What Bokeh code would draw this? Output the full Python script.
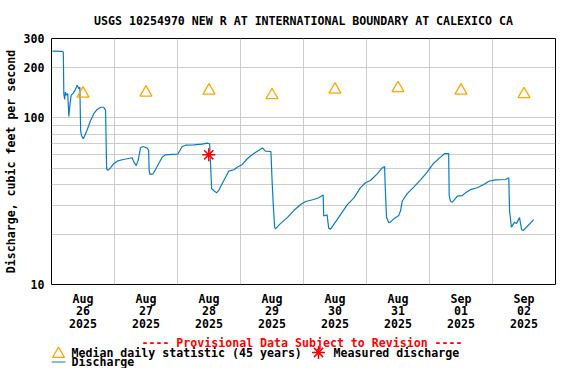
from bokeh.plotting import figure
from bokeh.models import FixedTicker, Range1d, BasicTickFormatter
from bokeh.layouts import column
from bokeh.embed import file_html
from bokeh.resources import INLINE
from bokeh.core.properties import value

TITLE = "USGS 10254970 NEW R AT INTERNATIONAL BOUNDARY AT CALEXICO CA"
Y_LABEL = "Discharge, cubic feet per second"
PROVISIONAL = "---- Provisional Data Subject to Revision ----"
LEGEND_LABELS = ["Median daily statistic (45 years)", "Measured discharge", "Discharge"]

# hours since 2025-08-26 00:00
day_tick_hours = [12, 36, 60, 84, 108, 132, 156, 180]
day_labels = ["Aug\n26\n2025", "Aug\n27\n2025", "Aug\n28\n2025", "Aug\n29\n2025",
              "Aug\n30\n2025", "Aug\n31\n2025", "Sep\n01\n2025", "Sep\n02\n2025"]
midnight_hours = [24, 48, 72, 96, 120, 144, 168]
y_ticks = [10, 20, 30, 40, 50, 60, 70, 80, 90, 100, 200, 300]
y_tick_labels = ["10", "", "", "", "", "", "", "", "", "100", "200", "300"]

hours = [0.3, 4.1, 4.5, 4.7, 5.0, 5.3, 5.7, 6.2, 6.6, 7.0,
         7.5, 8.3, 9.1, 9.8, 10.4, 10.8, 11.1, 11.4, 12.1, 12.7,
         13.6, 14.9, 16.1, 17.4, 18.7, 19.9, 20.6, 21.0, 21.5, 22.5,
         23.7, 25.0, 26.9, 28.8, 30.7, 31.4, 32.3, 33.0, 33.9, 34.9,
         36.5, 37.0, 37.2, 37.5, 38.7, 39.6, 40.9, 42.2, 43.4, 46.0,
         48.1, 48.9, 49.8, 51.1, 54.2, 57.4, 59.3, 60.2, 60.3, 61.0,
         61.8, 62.9, 63.7, 65.0, 66.3, 67.5, 69.5, 70.7, 72.7, 74.6,
         75.8, 78.4, 80.4, 81.5, 83.6, 84.0, 84.4, 85.0, 85.3, 87.2,
         89.8, 92.3, 94.9, 96.8, 99.9, 101.8, 103.5, 103.7, 104.4, 105.0,
         105.6, 106.3, 108.8, 112.7, 115.2, 117.7, 119.6, 121.5, 124.1, 126.0,
         126.9, 127.1, 127.6, 128.5, 129.1, 130.4, 132.3, 133.0, 133.6, 135.5,
         138.0, 140.6, 143.1, 145.6, 148.2, 149.7, 151.3, 151.5, 152.0, 152.7,
         153.5, 154.6, 156.5, 157.7, 159.6, 162.2, 164.7, 166.6, 169.1, 173.0,
         174.2, 174.5, 175.2, 176.4, 177.1, 178.3, 178.7, 179.1, 179.7, 181.2,
         183.7]
discharge = [252, 251, 248, 140, 129, 143, 137, 140, 102, 119,
             137, 141, 148, 157, 150, 153, 84, 78.5, 75, 78.5,
             85, 96.6, 106, 112.5, 116, 116, 111, 49.5, 48.4, 50.2,
             53.1, 55, 56.1, 56.9, 57.7, 54.3, 51.8, 55.6, 66.2, 67.4,
             65.9, 63.8, 48.4, 45.8, 46.2, 48.9, 53.5, 58.2, 60.1, 60.4,
             60.6, 63.8, 67.4, 68.6, 69.0, 69.6, 70.6, 70.0, 66.8, 37.6,
             36.7, 35.5, 36.7, 40.3, 44.1, 47.9, 48.9, 50.6, 52.6, 56.9,
             59.1, 63.2, 66.0, 63.2, 62.9, 43.1, 31.9, 22.1, 21.6, 23.2,
             25.2, 27.8, 30.2, 31.5, 32.4, 33.2, 34.5, 25.8, 26.0, 26.2,
             21.8, 21.5, 24.5, 30.2, 33.1, 38.2, 40.8, 42.1, 46.2, 50.2,
             51.1, 40.3, 25.4, 23.5, 23.7, 24.8, 26.0, 27.8, 31.6, 35.1,
             38.4, 42.5, 47.3, 53.5, 58.2, 61.0, 61.0, 34.2, 31.6, 31.2,
             32.3, 33.9, 34.2, 35.5, 37.1, 38.1, 39.9, 41.7, 42.5, 42.7,
             43.7, 27.8, 22.1, 23.7, 23.2, 25.2, 23.2, 21.3, 21.1, 22.3,
             24.5]

median_hours = [12, 36, 60, 84, 108, 132, 156, 180]
median_cfs = [140, 142, 146, 137, 148, 151, 146, 139]
measured_hours = [59.9]
measured_cfs = [60.1]

FONT = "DejaVu Sans Mono"
FSIZE = "11.6px"
LINE_COLOR = "#0a7bc8"
TRI_COLOR = "#ffa500"
AST_COLOR = "#ff0000"
GRID_COLOR = "#cccccc"

p = figure(width=560, height=334, x_range=Range1d(0, 192), y_range=Range1d(10, 300),
           y_axis_type="log", output_backend="svg", toolbar_location=None,
           min_border_left=51, min_border_right=5, min_border_top=38, min_border_bottom=50)
p.title.text = TITLE
p.title.align = "center"
p.title.text_font = FONT
p.title.text_font_size = FSIZE
p.title.text_font_style = "bold"
p.title.text_color = "black"
p.title.standoff = 21
p.outline_line_color = "black"
p.outline_line_width = 1
p.background_fill_color = "white"

p.xaxis.ticker = FixedTicker(ticks=day_tick_hours)
p.xaxis.major_label_overrides = dict(zip(day_tick_hours, day_labels))
p.xaxis.major_label_text_line_height = 0.9
p.xaxis.major_label_standoff = 7
p.yaxis.ticker = FixedTicker(ticks=y_ticks)
p.yaxis.formatter = BasicTickFormatter()
p.yaxis.major_label_overrides = dict(zip(y_ticks, y_tick_labels))
p.yaxis.major_label_standoff = 7
p.yaxis.axis_label = Y_LABEL
p.yaxis.axis_label_standoff = 3
for ax in (p.xaxis, p.yaxis):
    ax.axis_line_color = None
    ax.major_tick_line_color = None
    ax.minor_tick_line_color = None
    ax.major_tick_out = 0
    ax.minor_tick_out = 0
    ax.major_tick_in = 0
    ax.minor_tick_in = 0
    ax.major_label_text_font = FONT
    ax.major_label_text_font_size = FSIZE
    ax.major_label_text_font_style = "bold"
    ax.major_label_text_color = "black"
    ax.axis_label_text_font = FONT
    ax.axis_label_text_font_size = FSIZE
    ax.axis_label_text_font_style = "bold"
    ax.axis_label_text_color = "black"

p.xgrid.ticker = FixedTicker(ticks=midnight_hours)
p.ygrid.ticker = FixedTicker(ticks=y_ticks)
p.xgrid.grid_line_color = GRID_COLOR
p.ygrid.grid_line_color = GRID_COLOR

p.line(hours, discharge, line_color=LINE_COLOR, line_width=1.2)
p.scatter(median_hours, median_cfs, marker="triangle", size=12, fill_color=None,
          line_color=TRI_COLOR, line_width=1.3)
p.scatter(measured_hours, measured_cfs, marker="asterisk", size=13,
          line_color=AST_COLOR, line_width=1.5)

# legend strip below the chart (its frame is aligned with the chart frame)
leg = figure(width=560, height=34, x_range=Range1d(51, 555), y_range=Range1d(34, 0),
             output_backend="svg", toolbar_location=None, min_border=0,
             x_axis_location=None, y_axis_location=None)
leg.grid.visible = False
leg.outline_line_color = None
leg.text(x=[301.5], y=[8], text=[PROVISIONAL], text_color="red", text_font=value(FONT),
         text_font_size=value(FSIZE), text_font_style="bold", text_align="center",
         text_baseline="middle")
leg.scatter(x=[58], y=[19.5], marker="triangle", size=12, fill_color=None,
            line_color=TRI_COLOR, line_width=1.3)
leg.scatter(x=[318], y=[18], marker="asterisk", size=13, line_color=AST_COLOR, line_width=1.5)
leg.segment(x0=[51], y0=[27.5], x1=[65], y1=[27.5], line_color=LINE_COLOR, line_width=1.2)
leg.text(x=[71, 333, 71], y=[18, 18, 27.5], text=LEGEND_LABELS, text_color="black",
         text_font=value(FONT), text_font_size=value(FSIZE), text_font_style="bold",
         text_align="left", text_baseline="middle")

layout = column(p, leg, spacing=0)
open("out.html", "w").write(file_html(layout, INLINE))
